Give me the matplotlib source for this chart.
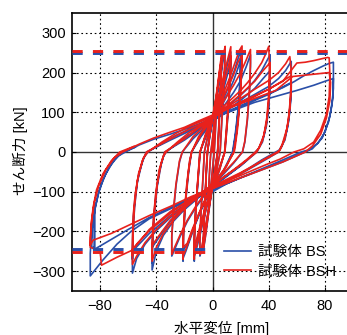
import matplotlib
matplotlib.use("Agg")
import matplotlib.pyplot as plt
import numpy as np

# -*- coding: utf-8 -*-
# せん断力-水平変位 履歴曲線 (試験体 BS / BSH)

plt.rcParams['font.family'] = ['Liberation Sans', 'Noto Sans CJK JP']
plt.rcParams['font.size'] = 10.5

# ---- 試験体 BS (blue), (x [mm], Q [kN]) ----
bs_3 = [(0, 0), (1, 45), (2, 90), (3, 120), (2.6, 90), (1.8, 35), (1.2, 0), (0, -45), (-1, -80), (-2, -105),
        (-3, -120), (-2.6, -85), (-1.8, -30), (-1.2, 0), (0, 30)]
bs_6 = [(0, 30), (1.5, 80), (3, 130), (4.5, 180), (5.5, 210), (6.5, 232), (6.2, 200), (5.3, 130), (4.4, 60),
        (3.6, 0), (2, -45), (0, -85), (-1.5, -120), (-3, -160), (-4.5, -200), (-5.5, -225), (-6.5, -245),
        (-6.3, -210), (-5.4, -130), (-4.5, -60), (-3.6, 0), (-2, 40), (0, 75)]
bs_6b = [(0, 75), (2, 115), (4, 170), (5.5, 205), (6.5, 222), (6.2, 190), (5.2, 110), (4.2, 30), (3.6, 0),
         (1.5, -50), (0, -80), (-2, -125), (-4, -180), (-5.5, -215), (-6.5, -232), (-6.2, -190), (-5.2, -110),
         (-4.2, -30), (-3.6, 0), (-1.5, 50), (0, 80)]
bs_9 = [(0, 80), (2, 120), (4, 160), (6, 200), (8, 238), (9, 252), (8.7, 215), (7.6, 140), (6.3, 60), (5.4, 0),
        (3, -45), (0, -90), (-2, -130), (-4, -170), (-6, -210), (-8, -250), (-9, -262), (-9, -230), (-8.3, -160),
        (-7, -80), (-5.8, 0), (-3, 45), (0, 80)]
bs_13 = [(0, 80), (3, 115), (6, 155), (9, 195), (11.5, 235), (13, 252), (12.8, 215), (11.8, 140), (10, 60),
         (8.6, 0), (5, -45), (2, -75), (0, -92), (-3, -125), (-6, -165), (-9, -210), (-11.5, -245), (-13, -262),
         (-13, -220), (-12, -150), (-10.3, -70), (-8.8, 0), (-5, 40), (-2, 65), (0, 80)]
bs_13b = [(0, 80), (4, 115), (8, 160), (11, 200), (13, 230), (12.8, 200), (11.6, 120), (10, 50), (8.8, 0),
          (4, -50), (0, -90), (-4, -130), (-8, -180), (-11, -220), (-13, -245), (-13, -275), (-12.8, -210),
          (-11.8, -140), (-10.2, -60), (-9, 0), (-4, 45), (0, 78)]
bs_20 = [(0, 78), (4, 105), (8, 135), (12, 170), (16, 210), (19, 245), (20, 258), (20, 225), (19.3, 160),
         (17.8, 95), (16, 40), (14.2, 0), (10, -35), (5, -65), (0, -90), (-4, -115), (-8, -145), (-12, -180),
         (-16, -220), (-19, -250), (-21, -268), (-21, -220), (-20, -155), (-18.3, -85), (-16.3, -25),
         (-14.8, 0), (-10, 33), (-5, 58), (0, 78)]
bs_20b = [(0, 78), (5, 105), (10, 140), (15, 180), (18, 210), (20, 232), (19.8, 200), (18.8, 130), (17, 60),
          (15, 10), (14.4, 0), (8, -45), (0, -85), (-5, -120), (-10, -160), (-15, -205), (-18, -235),
          (-21, -245), (-21, -275), (-20.5, -200), (-19, -120), (-17, -50), (-15, 0), (-8, 40), (0, 75)]
bs_28 = [(0, 75), (5, 100), (10, 125), (15, 150), (20, 180), (24, 215), (27, 245), (27, 215), (26.3, 150),
         (24.8, 80), (23, 25), (21.3, 0), (15, -28), (8, -55), (0, -85), (-6, -110), (-12, -140), (-18, -175),
         (-23, -212), (-27, -245), (-29, -262), (-29, -215), (-27.8, -150), (-26, -85), (-23.5, -25),
         (-21.5, 0), (-14, 33), (-7, 57), (0, 78)]
bs_40 = [(0, 78), (5, 98), (10, 113), (15, 128), (20, 143), (25, 160), (30, 180), (35, 205), (38, 225),
         (41, 245), (41, 205), (40.5, 140), (39, 85), (36.5, 40), (33, 10), (30.5, 0), (24, -22), (16, -45),
         (8, -67), (0, -90), (-10, -115), (-20, -145), (-28, -175), (-35, -210), (-40, -250), (-43, -297),
         (-43, -240), (-42, -170), (-40.3, -105), (-38, -50), (-35, -12), (-33, 0), (-25, 22), (-17, 43),
         (-8, 62), (0, 80)]
bs_40b = [(0, 80), (10, 105), (20, 130), (30, 160), (36, 185), (41, 205), (40.8, 170), (40, 115), (38.3, 65),
          (35.5, 25), (31.5, 0), (20, -35), (10, -60), (0, -85), (-10, -110), (-20, -140), (-30, -175),
          (-38, -215), (-43, -240), (-43, -280), (-42.5, -220), (-41.2, -150), (-39.3, -85), (-36.5, -30),
          (-34, 0), (-20, 30), (-10, 55), (0, 78)]
bs_55 = [(0, 78), (10, 105), (20, 125), (30, 145), (40, 165), (47, 185), (52, 205), (56, 228), (56, 195),
         (55.5, 130), (54, 75), (51.5, 30), (47.5, 5), (45, 0), (35, -20), (25, -43), (15, -63), (5, -83),
         (0, -93), (-10, -113), (-20, -138), (-30, -165), (-40, -198), (-48, -232), (-54, -268), (-57, -305),
         (-57, -235), (-56.5, -170), (-55, -110), (-52.5, -55), (-49, -15), (-46, 0), (-36, 22), (-26, 42),
         (-16, 58), (-6, 73), (0, 80)]
bs_55b = [(0, 80), (10, 100), (20, 115), (30, 130), (40, 145), (48, 160), (56, 175), (56, 150), (55, 100),
          (53, 55), (49.5, 15), (47, 0), (35, -25), (20, -55), (0, -90), (-15, -120), (-30, -160), (-45, -205),
          (-53, -235), (-57, -250), (-57, -270), (-56.5, -205), (-55.5, -140), (-53.5, -75), (-50, -25),
          (-47, 0), (-30, 30), (-15, 55), (0, 78)]
bs_85 = [(0, 78), (10, 100), (20, 117), (30, 132), (40, 147), (50, 162), (58, 177), (65, 192), (72, 205),
         (79, 217), (83, 223), (86, 226), (86, 185), (85.5, 135), (83.5, 90), (80, 50), (75, 22), (68, 5),
         (63, 0), (50, -20), (40, -35), (30, -50), (20, -65), (10, -80), (0, -100), (-15, -120), (-30, -143),
         (-45, -168), (-58, -200), (-68, -232), (-78, -272), (-87, -312), (-87, -255), (-86, -200), (-84, -150),
         (-81.5, -108), (-78, -70), (-73, -35), (-67, -10), (-62, 0), (-52, 18), (-42, 32), (-30, 45),
         (-20, 57), (-10, 70), (0, 85)]
bs_85b = [(0, 85), (15, 105), (30, 125), (45, 140), (60, 155), (72, 168), (80, 178), (86, 185), (86, 160),
          (85, 118), (82.5, 75), (78, 35), (71, 8), (66, 0), (50, -25), (35, -45), (20, -65), (0, -95),
          (-15, -115), (-30, -140), (-45, -165), (-60, -195), (-72, -220), (-84, -245), (-84, -135),
          (-84, -240), (-86, -240), (-85.5, -190), (-83.5, -140), (-80.5, -95), (-76, -55), (-70, -20),
          (-64, 0), (-55, 12)]

# ---- 試験体 BSH (red) ----
bsh_3 = [(0, 0), (1, 50), (2, 100), (3, 130), (2.6, 95), (1.8, 38), (1.2, 0), (0, -42), (-1, -78), (-2, -100),
         (-3, -115), (-2.6, -80), (-1.8, -28), (-1.2, 0), (0, 35)]
bsh_6 = [(0, 35), (1.5, 85), (3, 140), (4.5, 190), (5.5, 222), (6.5, 245), (6.2, 210), (5.3, 135), (4.4, 60),
         (3.6, 0), (2, -45), (0, -82), (-1.5, -118), (-3, -158), (-4.5, -198), (-5.5, -222), (-6.5, -242),
         (-6.3, -205), (-5.4, -125), (-4.5, -55), (-3.6, 0), (-2, 45), (0, 85)]
bsh_6b = [(0, 85), (2, 125), (4, 180), (5.5, 215), (6.5, 235), (6.2, 200), (5.2, 115), (4.2, 30), (3.6, 0),
          (1.5, -48), (0, -78), (-2, -122), (-4, -175), (-5.5, -210), (-6.5, -228), (-6.2, -185), (-5.2, -105),
          (-4.2, -28), (-3.6, 0), (-1.5, 55), (0, 88)]
bsh_9 = [(0, 88), (2, 128), (4, 170), (6, 212), (8, 250), (9, 266), (8.7, 225), (7.6, 150), (6.3, 65),
         (5.4, 0), (3, -45), (0, -88), (-2, -128), (-4, -168), (-6, -208), (-8, -245), (-9, -258), (-9, -225),
         (-8.3, -155), (-7, -75), (-5.8, 0), (-3, 50), (0, 90)]
bsh_13 = [(0, 90), (3, 125), (6, 165), (9, 208), (11.5, 245), (13, 265), (12.8, 225), (11.8, 150), (10, 65),
          (8.6, 0), (5, -45), (2, -72), (0, -90), (-3, -122), (-6, -162), (-9, -205), (-11.5, -240), (-13, -258),
          (-13, -215), (-12, -145), (-10.3, -65), (-8.8, 0), (-5, 45), (-2, 72), (0, 90)]
bsh_13b = [(0, 90), (4, 125), (8, 172), (11, 212), (13, 242), (12.8, 210), (11.6, 128), (10, 52), (8.8, 0),
           (4, -48), (0, -86), (-4, -126), (-8, -175), (-11, -215), (-13, -240), (-13, -270), (-12.8, -205),
           (-11.8, -135), (-10.2, -55), (-9, 0), (-4, 50), (0, 88)]
bsh_20 = [(0, 88), (4, 118), (8, 150), (12, 185), (16, 225), (19, 255), (21, 267), (21, 235), (20.2, 170),
          (18.7, 100), (16.8, 40), (15, 0), (10, -35), (5, -62), (0, -88), (-4, -112), (-8, -142), (-12, -177),
          (-16, -216), (-19, -245), (-21, -262), (-21, -215), (-20, -150), (-18.3, -80), (-16.3, -22),
          (-14.8, 0), (-10, 38), (-5, 65), (0, 88)]
bsh_20b = [(0, 88), (5, 118), (10, 155), (15, 195), (18, 225), (21, 245), (20.8, 210), (19.8, 140), (18, 65),
           (16, 10), (15.4, 0), (8, -45), (0, -82), (-5, -117), (-10, -157), (-15, -200), (-18, -230),
           (-21, -240), (-21, -270), (-20.5, -195), (-19, -115), (-17, -45), (-15, 0), (-8, 45), (0, 85)]
bsh_28 = [(0, 85), (5, 112), (10, 140), (15, 168), (20, 200), (24, 232), (27, 258), (27, 225), (26.3, 160),
          (24.8, 85), (23, 28), (21.3, 0), (15, -26), (8, -52), (0, -82), (-6, -107), (-12, -137), (-18, -172),
          (-23, -208), (-27, -240), (-29, -258), (-29, -210), (-27.8, -145), (-26, -80), (-23.5, -22),
          (-21.5, 0), (-14, 38), (-7, 62), (0, 85)]
bsh_40 = [(0, 85), (5, 105), (10, 122), (15, 138), (20, 155), (25, 175), (30, 198), (35, 225), (38, 248),
          (40, 266), (40.5, 220), (40, 150), (38.8, 90), (36.5, 42), (33, 10), (30.5, 0), (24, -20), (16, -42),
          (8, -63), (0, -86), (-10, -112), (-20, -142), (-28, -172), (-35, -205), (-40, -240), (-43, -275),
          (-43, -230), (-42, -165), (-40.3, -100), (-38, -45), (-35, -10), (-33, 0), (-25, 25), (-17, 48),
          (-8, 68), (0, 88)]
bsh_40b = [(0, 88), (10, 115), (20, 145), (30, 178), (36, 205), (41, 225), (40.8, 185), (40, 125), (38.3, 70),
           (35.5, 28), (31.5, 0), (20, -33), (10, -58), (0, -82), (-10, -108), (-20, -137), (-30, -172),
           (-38, -210), (-43, -235), (-43, -268), (-42.5, -210), (-41.2, -145), (-39.3, -80), (-36.5, -28),
           (-34, 0), (-20, 33), (-10, 60), (0, 85)]
bsh_55 = [(0, 85), (10, 112), (20, 135), (30, 158), (40, 180), (47, 200), (52, 222), (55, 240), (56, 205),
          (55.5, 140), (54, 80), (51.5, 33), (48, 5), (46, 0), (36, -20), (26, -42), (16, -62), (6, -80),
          (0, -90), (-10, -110), (-20, -135), (-30, -162), (-40, -195), (-48, -228), (-54, -262), (-57, -283),
          (-57, -225), (-56.5, -162), (-55, -105), (-52.5, -52), (-49, -14), (-46, 0), (-36, 25), (-26, 47),
          (-16, 65), (-6, 80), (0, 88)]
bsh_55b = [(0, 88), (10, 110), (20, 125), (30, 142), (40, 158), (48, 175), (56, 192), (56, 165), (55, 110),
           (53, 60), (49.5, 18), (47, 0), (35, -23), (20, -52), (0, -86), (-15, -116), (-30, -155), (-45, -198),
           (-53, -228), (-57, -245), (-57, -262), (-56.5, -200), (-55.5, -135), (-53.5, -72), (-50, -22),
           (-47, 0), (-30, 33), (-15, 60), (0, 85)]
bsh_85 = [(0, 85), (10, 108), (20, 125), (30, 140), (40, 158), (50, 178), (57, 210), (60, 224), (66, 226),
          (72, 230), (78, 235), (82, 238), (83, 237), (83.5, 195), (83, 140), (81, 95), (77, 55), (72, 25),
          (65, 8), (58, 0), (48, -18), (38, -32), (28, -47), (18, -62), (8, -77), (0, -92), (-15, -118),
          (-30, -150), (-45, -195), (-57, -247), (-68, -265), (-79, -285), (-80, -250), (-87, -240),
          (-87, -215), (-86, -170), (-84, -125), (-81, -85), (-76, -45), (-70, -15), (-64, 0), (-52, 20),
          (-42, 35), (-30, 50), (-20, 62), (-10, 78), (0, 93)]
bsh_85b = [(0, 93), (15, 115), (30, 135), (45, 155), (57, 190), (65, 193), (75, 197), (83, 200), (84, 175),
           (83.5, 130), (81, 85), (77, 45), (71, 15), (66, 0), (50, -25), (35, -45), (20, -65), (0, -92),
           (-15, -112), (-30, -137), (-45, -160), (-60, -185), (-72, -205), (-85, -222), (-87, -235),
           (-86.5, -190), (-85, -140), (-82.5, -95), (-78, -55), (-72, -22), (-66, 0), (-56, 14)]

bs_path = bs_3 + bs_6 + bs_6b + bs_9 + bs_13 + bs_13b + bs_20 + bs_20b + bs_28 + bs_40 + bs_40b + bs_55 + bs_55b + bs_85 + bs_85b
bsh_path = bsh_3 + bsh_6 + bsh_6b + bsh_9 + bsh_13 + bsh_13b + bsh_20 + bsh_20b + bsh_28 + bsh_40 + bsh_40b + bsh_55 + bsh_55b + bsh_85 + bsh_85b

# 終局耐力の計算値 (破線)
bs_qu = [248, -245]
bsh_qu = [253, -253]

x_ticks = [-80, -40, 0, 40, 80]
y_ticks = [-300, -200, -100, 0, 100, 200, 300]

BLUE = '#2a4fa8'
RED = '#e8211c'

fig = plt.figure(figsize=(3.47, 3.35), dpi=100)
ax = fig.add_axes([0.2075, 0.1313, 0.81, 0.83])

# grid
for xv in x_ticks:
    if xv != 0:
        ax.axvline(xv, color='black', lw=0.8, ls=(0, (1.5, 2.5)), zorder=0)
for yv in y_ticks:
    if yv != 0:
        ax.axhline(yv, color='black', lw=0.8, ls=(0, (1.5, 2.5)), zorder=0)
ax.axvline(0, color='#333333', lw=1.0, zorder=0.5)
ax.axhline(0, color='#333333', lw=1.0, zorder=0.5)

bs = np.array(bs_path)
bsh = np.array(bsh_path)
ax.plot(bs[:, 0], bs[:, 1], color=BLUE, lw=1.2, label='試験体 BS', zorder=2)
ax.plot(bsh[:, 0], bsh[:, 1], color=RED, lw=1.2, label='試験体 BSH', zorder=3)

# dashed lines
ax.plot([-100, 100], [bs_qu[0]] * 2, color=BLUE, lw=2.1, dashes=(3.5, 3.5), zorder=4)
ax.plot([-100, 100], [bsh_qu[0]] * 2, color=RED, lw=2.1, dashes=(3.5, 3.5), zorder=4)
ax.plot([-100, -2], [bs_qu[1]] * 2, color=BLUE, lw=2.1, dashes=(3.5, 3.5), zorder=4)
ax.plot([-100, -2], [bsh_qu[1]] * 2, color=RED, lw=2.1, dashes=(3.5, 3.5), zorder=4)

ax.set_xlim(-100, 100)
ax.set_ylim(-350, 350)
ax.set_xticks(x_ticks)
ax.set_yticks(y_ticks)
ax.tick_params(direction='in', length=3, width=0.8)
ax.tick_params(axis='x', pad=6)
ax.tick_params(axis='y', pad=4.5)
for s in ax.spines.values():
    s.set_linewidth(1.2)

fig.text(20 / 347, 1 - 151 / 335, 'せん断力 [kN]', rotation=90, ha='center', va='center')
fig.text(222 / 347, 1 - 321 / 335, '水平変位 [mm]', ha='center', va='top')

ax.legend(loc='center left', bbox_to_anchor=(217 / 347, 1 - 262 / 335), bbox_transform=fig.transFigure,
          frameon=False, handlelength=1.8, handletextpad=0.5, borderpad=0, labelspacing=0.35)

fig.savefig('out.png', dpi=100)
